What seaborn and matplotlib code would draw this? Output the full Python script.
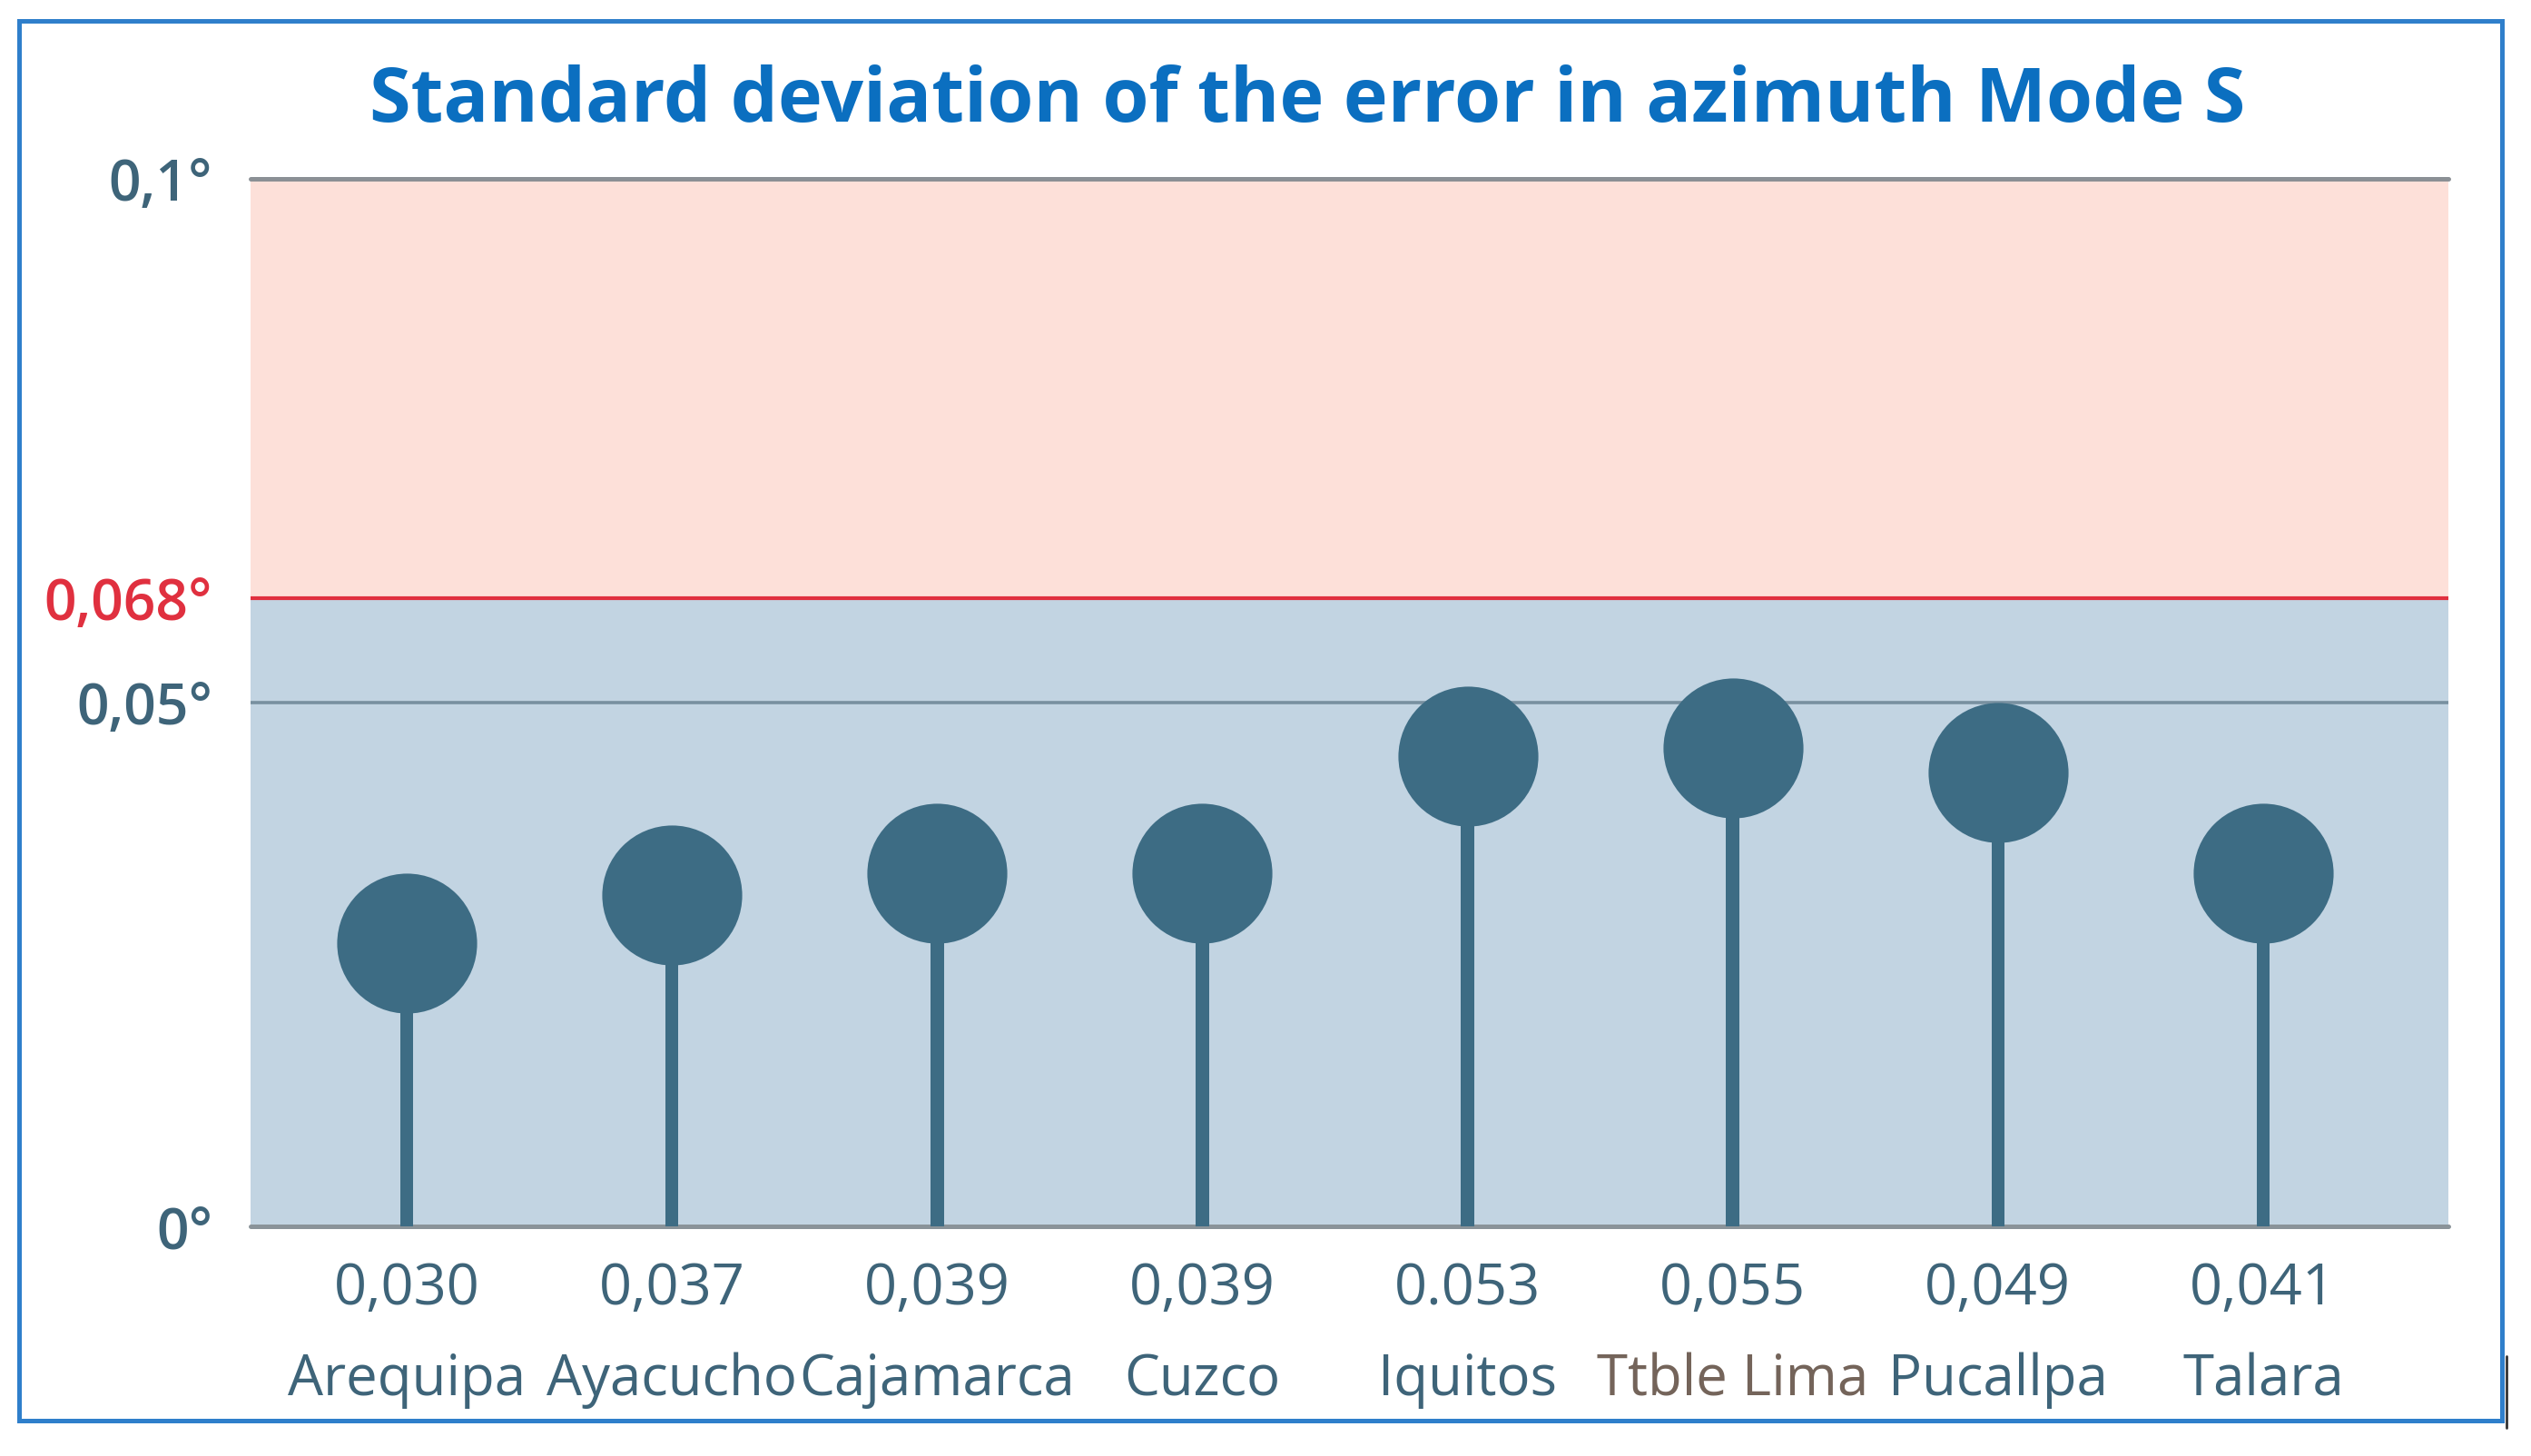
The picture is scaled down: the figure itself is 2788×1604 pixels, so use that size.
import numpy as np
import pandas as pd
import matplotlib.pyplot as plt
import seaborn as sns
from matplotlib import transforms
from matplotlib.patches import Rectangle
from matplotlib.lines import Line2D

# data
stations = ["Arequipa", "Ayacucho", "Cajamarca", "Cuzco", "Iquitos", "Ttble Lima", "Pucallpa", "Talara"]
value_labels = ["0,030", "0,037", "0,039", "0,039", "0.053", "0,055", "0,049", "0,041"]
# marker heights as drawn on the axis
heights = [0.0270, 0.0316, 0.0337, 0.0337, 0.0449, 0.0457, 0.0433, 0.0337]
ytick_vals = [0, 0.05, 0.06, 0.1]
ytick_labels = ["0°", "0,05°", "0,068°", "0,1°"]
limit = 0.06  # where the 0,068° limit line is drawn

stem_color = "#3d6c84"
text_color = "#3e6479"
red = "#e0303f"

sns.set_theme(style="white")
plt.rcParams['font.family'] = ['Open Sans', 'DejaVu Sans']

fig = plt.figure(figsize=(27.88, 16.04), dpi=100)
ax = fig.add_axes([0.099, 0.1577, 0.8683, 0.7195])

# background bands
ax.axhspan(0, limit, color="#c2d4e2", zorder=0, lw=0)
ax.axhspan(limit, 0.1, color="#fde0d9", zorder=0, lw=0)

# reference lines
ax.axhline(0, color="#8a9399", lw=3.6, zorder=1, clip_on=False)
ax.axhline(0.05, color="#7890a0", lw=2.6, zorder=1)
ax.axhline(0.1, color="#8b9095", lw=3.6, zorder=1, clip_on=False)
ax.axhline(limit, color=red, lw=3.0, zorder=1)

df = pd.DataFrame({"station": stations, "height": heights})

# stems and heads of the lollipops
sns.barplot(data=df, x="station", y="height", width=0.05, color=stem_color,
            saturation=1, errorbar=None, linewidth=0, ax=ax, zorder=2)
sns.stripplot(data=df, x="station", y="height", jitter=False, size=111,
              color=stem_color, linewidth=0, ax=ax, zorder=3)

ax.set_xlim(-0.589, 7.698)
ax.set_ylim(0, 0.1)
ax.set_xlabel("")
ax.set_ylabel("")
ax.set_xticks([])
ax.set_yticks(ytick_vals, ytick_labels)
ax.tick_params(axis="y", length=0, pad=30, labelsize=45, labelcolor=text_color)
for lab in ax.get_yticklabels():
    lab.set_fontweight("semibold")
ax.get_yticklabels()[2].set_color(red)
for s in ax.spines.values():
    s.set_visible(False)

# value and station labels under each stem
trans = transforms.blended_transform_factory(ax.transData, fig.transFigure)
for i, (v, name) in enumerate(zip(value_labels, stations)):
    ax.text(i, 0.1142, v, transform=trans, ha="center", va="center",
            fontsize=45.5, color=text_color)
    c = "#74645a" if name == "Ttble Lima" else text_color
    ax.text(i, 0.0518, name, transform=trans, ha="center", va="center",
            fontsize=44.5, color=c)

fig.text(0.5165, 0.930, "Standard deviation of the error in azimuth Mode S",
         ha="center", va="center", fontsize=59.5, fontweight="bold", color="#0b6fc0")

# outer frame
fig.add_artist(Rectangle((0.0075, 0.0243), 0.981, 0.9614, transform=fig.transFigure,
                         fill=False, ec="#2f7fcb", lw=3.6))
fig.add_artist(Line2D([0.9903, 0.9903], [0.0193, 0.0686], transform=fig.transFigure,
                      color="#333333", lw=2))

fig.savefig("out.png", dpi=100)
